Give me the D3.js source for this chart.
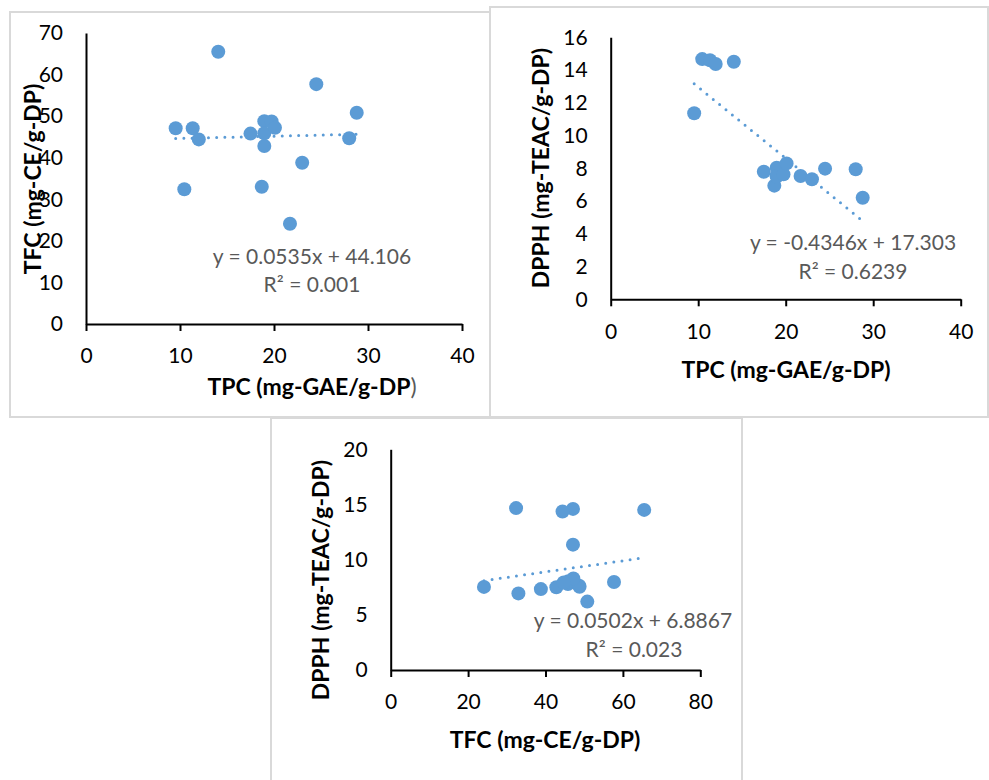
<!DOCTYPE html>
<html>
<head>
<meta charset="utf-8">
<script src="https://cdn.jsdelivr.net/npm/d3@7"></script>
<style>
  body { margin: 0; background: #fff; }
  text { font-family: Lato, "Open Sans", sans-serif; }
</style>
</head>
<body>
<div id="viz"></div>
<script>
// sample values, one entry per extract
const tpc  = [9.54, 10.46, 11.35, 12.0, 14.07, 17.5, 18.7, 18.97, 18.97, 18.97, 19.75, 20.1, 21.7, 23.0, 24.5, 28.0, 28.8];
const tfc  = [47.1, 32.4, 47.1, 44.4, 65.5, 45.8, 33.0, 48.8, 45.9, 42.8, 48.7, 47.2, 24.1, 38.8, 57.7, 44.7, 50.8];
const dpph = [11.36, 14.67, 14.6, 14.37, 14.51, 7.79, 6.94, 7.55, 8.04, 7.5, 7.63, 8.3, 7.53, 7.33, 7.98, 7.94, 6.2];

// linear trendlines as reported on the chart
const trendSlope = [0.0535, -0.4346, 0.0502];
const trendIntercept = [44.106, 17.303, 6.8867];
const eqLabels = ['y = 0.0535x + 44.106', 'y = -0.4346x + 17.303', 'y = 0.0502x + 6.8867'];
const r2Labels = ['R\u00b2 = 0.001', 'R\u00b2 = 0.6239', 'R\u00b2 = 0.023'];

const xTitles = ['TPC (mg-GAE/g-DP', 'TPC (mg-GAE/g-DP)', 'TFC (mg-CE/g-DP)'];
const yTitles = ['TFC (mg-CE/g-DP)', 'DPPH (mg-TEAC/g-DP)', 'DPPH (mg-TEAC/g-DP)'];
const xTicks = [[0, 10, 20, 30, 40], [0, 10, 20, 30, 40], [0, 20, 40, 60, 80]];
const yTicks = [[0, 10, 20, 30, 40, 50, 60, 70], [0, 2, 4, 6, 8, 10, 12, 14, 16], [0, 5, 10, 15, 20]];

const W = 989, H = 780;
const blue = '#5b9bd5';
const tickFont = 21, labelFont = 21, titleFont = 23;

const svg = d3.select('#viz').append('svg')
  .attr('width', W)
  .attr('height', H);

// panel frames
const frames = [
  [10, 12, 480, 405],
  [490, 7, 498, 410],
  [271, 418, 471, 380]
];
svg.append('g').selectAll('rect')
  .data(frames)
  .enter()
  .append('rect')
  .attr('x', d => d[0])
  .attr('y', d => d[1])
  .attr('width', d => d[2])
  .attr('height', d => d[3])
  .attr('fill', 'none')
  .attr('stroke', '#d9d9d9')
  .attr('stroke-width', 2);

const panels = [
  { xs: tpc, ys: tfc, xr: [86, 462], yr: [324, 33],
    xt: [312, 387], yt: [33, 179], eq: [312, 257], r2: [312, 285], closeParen: true },
  { xs: tpc, ys: dpph, xr: [610.7, 960.7], yr: [299.3, 37.3],
    xt: [786, 370], yt: [541, 168], eq: [853, 243], r2: [853, 272] },
  { xs: tfc, ys: dpph, xr: [390.7, 700.3], yr: [670, 449.3],
    xt: [545, 740], yt: [321, 580], eq: [633, 621], r2: [634, 650] }
];

panels.forEach((p, i) => {
  const g = svg.append('g');

  const xt = xTicks[i], yt = yTicks[i];
  const x = d3.scaleLinear().domain([xt[0], xt[xt.length - 1]]).range(p.xr);
  const y = d3.scaleLinear().domain([yt[0], yt[yt.length - 1]]).range(p.yr);

  // x axis
  const xa = g.append('g')
    .attr('transform', `translate(0,${p.yr[0]})`)
    .call(d3.axisBottom(x).tickValues(xt).tickSizeInner(7).tickSizeOuter(0).tickPadding(0));
  xa.select('.domain').attr('stroke', '#000').attr('stroke-width', 2);
  xa.selectAll('.tick line').attr('stroke', '#000').attr('stroke-width', 2);
  xa.selectAll('.tick text')
    .attr('y', 32)
    .attr('dy', '0.35em')
    .attr('font-size', tickFont)
    .attr('font-family', 'Lato, sans-serif')
    .attr('fill', '#000');

  // y axis, no tick marks
  const ya = g.append('g')
    .attr('transform', `translate(${p.xr[0]},0)`)
    .call(d3.axisLeft(y).tickValues(yt).tickSize(0).tickPadding(23));
  ya.select('.domain').attr('stroke', '#000').attr('stroke-width', 2);
  ya.selectAll('.tick text')
    .attr('font-size', tickFont)
    .attr('font-family', 'Lato, sans-serif')
    .attr('fill', '#000');

  // dotted trendline across the data range
  const ext = d3.extent(p.xs);
  const line = d3.line().x(d => x(d)).y(d => y(trendSlope[i] * d + trendIntercept[i]));
  g.append('path')
    .attr('d', line(ext))
    .attr('fill', 'none')
    .attr('stroke', blue)
    .attr('stroke-width', 3)
    .attr('stroke-linecap', 'round')
    .attr('stroke-dasharray', '0 8.2');

  // markers
  g.append('g').selectAll('circle')
    .data(p.xs.map((v, k) => [v, p.ys[k]]))
    .enter()
    .append('circle')
    .attr('cx', d => x(d[0]))
    .attr('cy', d => y(d[1]))
    .attr('r', 7)
    .attr('fill', blue);

  // trendline labels
  g.append('text')
    .attr('x', p.eq[0]).attr('y', p.eq[1])
    .attr('dy', '0.35em')
    .attr('text-anchor', 'middle')
    .attr('font-size', labelFont)
    .attr('fill', '#595959')
    .text(eqLabels[i]);
  g.append('text')
    .attr('x', p.r2[0]).attr('y', p.r2[1])
    .attr('dy', '0.35em')
    .attr('text-anchor', 'middle')
    .attr('font-size', labelFont)
    .attr('fill', '#595959')
    .text(r2Labels[i]);

  // axis titles
  const xTitle = g.append('text')
    .attr('x', p.xt[0]).attr('y', p.xt[1])
    .attr('dy', '0.35em')
    .attr('text-anchor', 'middle')
    .attr('font-size', titleFont)
    .attr('font-weight', 'bold')
    .attr('fill', '#000')
    .text(xTitles[i]);
  if (p.closeParen) {
    xTitle.append('tspan').attr('font-weight', 'normal').attr('fill', '#595959').text(')');
  }

  g.append('text')
    .attr('transform', `translate(${p.yt[0]},${p.yt[1]}) rotate(-90)`)
    .attr('dy', '0.35em')
    .attr('text-anchor', 'middle')
    .attr('font-size', titleFont)
    .attr('font-weight', 'bold')
    .attr('fill', '#000')
    .text(yTitles[i]);
});
</script>
</body>
</html>
